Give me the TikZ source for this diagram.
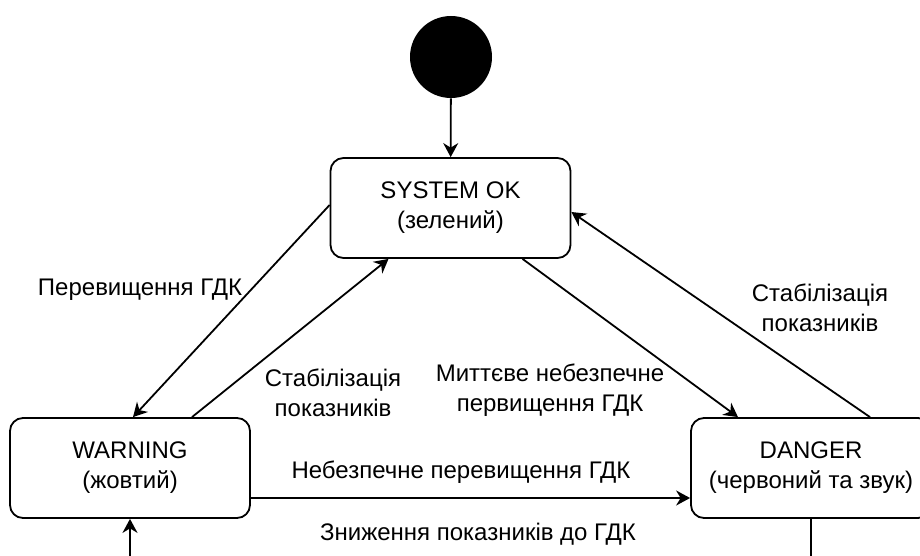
\documentclass[tikz,border=0pt]{standalone}
\usepackage{fontspec}
\setmainfont{Liberation Sans}
\usetikzlibrary{arrows.meta}

\tikzset{
  state/.style={draw, rounded corners=6.5pt, line width=0.9pt, minimum width=120pt, minimum height=50pt, align=center, font=\fontsize{12}{15}\selectfont},
  lbl/.style={align=center, inner sep=1pt, font=\fontsize{12}{15}\selectfont},
  arr/.style={line width=0.9pt, -{Stealth[length=7pt,width=7.5pt]}}
}

\begin{document}
\begin{tikzpicture}[x=0.5pt,y=-0.5pt]
\useasboundingbox (0,0) rectangle (920,556);
\clip (0,0) rectangle (920,556);

\node[circle, fill=black, minimum size=41pt, inner sep=0pt] (start) at (451,57) {};
\node[state] (ok) at (450.5,208) {SYSTEM OK\\(зелений)};
\node[state] (warn) at (130,468) {WARNING\\(жовтий)};
\node[state] (danger) at (811,468) {DANGER\\(червоний та звук)};
\coordinate (back) at (470,600);

\draw[arr] (start) -- (ok);
\draw[arr] ([yshift=1.5pt]ok.west) -- ([xshift=1.5pt]warn.north);
\draw[arr] ([xshift=31pt]warn.north) -- ([xshift=-31pt]ok.south);
\draw[arr] ([xshift=36pt]ok.south) -- ([xshift=-36.5pt]danger.north);
\draw[arr] ([xshift=29.5pt]danger.north) -- ([yshift=-2pt]ok.east);
\draw[arr] ([yshift=-15pt]warn.east) -- ([yshift=-15pt]danger.west);
\draw[arr] (danger.south) |- (back) -| (warn.south);

\node[lbl] (l1) at (140,290) {Перевищення ГДК};
\node[lbl] (l2) at (333,393) {Стабілізація\\показників};
\node[lbl] (l3) at (550,390) {Миттєве небезпечне\\первищення ГДК};
\node[lbl] (l4) at (820,308) {Стабілізація\\показників};
\node[lbl] (l5) at (461,472) {Небезпечне перевищення ГДК};
\node[lbl] (l6) at (478,534) {Зниження показників до ГДК};
\end{tikzpicture}
\end{document}
